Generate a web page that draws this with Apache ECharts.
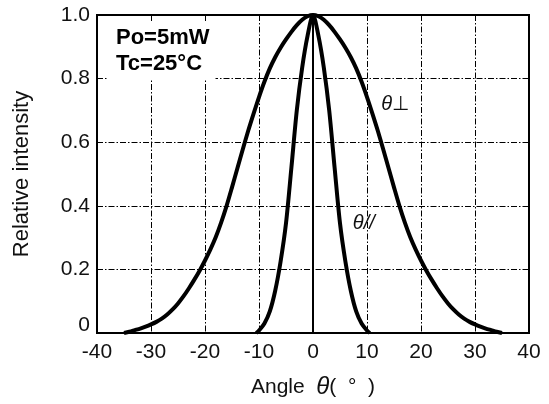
<!DOCTYPE html>
<html>
<head>
<meta charset="utf-8">
<script src="https://cdn.jsdelivr.net/npm/echarts@6/dist/echarts.min.js"></script>
<style>html,body{margin:0;padding:0;background:#fff}#c{width:549px;height:404px}</style>
</head>
<body>
<div id="c"></div>
<script>
// Data
const anglePerp = [-35,-34,-33,-32,-31,-30,-29,-28,-27,-26,-25,-24,-23,-22,-21,-20,-19,-18,-17,-16,-15,-14,-13,-12,-11,-10,-9,-8,-7,-6,-5,-4,-3,-2,-1,0,
  1,2,3,4,5,6,7,8,9,10,11,12,13,14,15,16,17,18,19,20,21,22,23,24,25,26,27,28,29,30,31,32,33,34,35];
const perpValues = [0,0.004,0.009,0.014,0.02,0.027,0.035,0.045,0.058,0.074,0.093,0.115,0.14,0.167,0.196,0.228,0.263,0.302,0.348,0.40,0.458,0.518,0.578,0.636,0.69,0.742,0.79,0.832,0.867,0.897,0.923,0.947,0.968,0.985,0.996,1.0,
  0.996,0.985,0.968,0.947,0.923,0.897,0.867,0.832,0.79,0.742,0.69,0.636,0.578,0.518,0.458,0.40,0.348,0.302,0.263,0.228,0.196,0.167,0.14,0.115,0.093,0.074,0.058,0.045,0.035,0.027,0.02,0.014,0.009,0.004,0];
const anglePar = [-10.5,-10,-9,-8,-7,-6,-5,-4,-3,-2,-1,0,1,2,3,4,5,6,7,8,9,10,10.5];
const parValues = [0,0.008,0.03,0.068,0.133,0.225,0.345,0.52,0.70,0.835,0.935,1.0,0.935,0.835,0.70,0.52,0.345,0.225,0.133,0.068,0.03,0.008,0];
const xTicks = [-40,-30,-20,-10,0,10,20,30,40];
const yTicks = [0,0.2,0.4,0.6,0.8,1.0];
const perpLabelPos = [15.2, 0.72];
const parLabelPos = [9.4, 0.343];

const FONT = 'Liberation Sans';
const chart = echarts.init(document.getElementById('c'));
const gridLine = {show:true, lineStyle:{color:'#000', width:1, type:[6,2,1.5,2]}};
const curveLabel = (pos, text) => ({
  symbol:'circle', symbolSize:1, silent:true,
  itemStyle:{color:'rgba(0,0,0,0)'},
  data:[{coord:pos, label:{show:true, position:'inside', formatter:text, color:'#111', fontFamily:FONT, fontSize:19,
    rich:{i:{fontStyle:'italic', fontFamily:FONT, fontSize:20, color:'#111'}, n:{fontFamily:FONT, fontSize:20, color:'#111'}}}}]
});
chart.setOption({
  animation:false,
  grid:{left:97, right:20, top:15, bottom:68, show:true, borderColor:'#000', borderWidth:2, backgroundColor:'transparent'},
  xAxis:{
    type:'value', min:xTicks[0], max:xTicks[xTicks.length-1], interval:10,
    axisLine:{show:true, lineStyle:{color:'#000', width:2}},
    axisTick:{show:false},
    splitLine:gridLine,
    axisLabel:{color:'#111', fontFamily:FONT, fontSize:21, margin:9, formatter:v=>String(v)},
    name:'Angle  {i|θ}(  °  )', nameLocation:'middle', nameGap:42,
    nameTextStyle:{color:'#111', fontFamily:FONT, fontSize:21, rich:{i:{fontStyle:'italic', fontSize:24, fontFamily:FONT, color:'#111'}}}
  },
  yAxis:{
    type:'value', min:yTicks[0], max:yTicks[yTicks.length-1], interval:0.2,
    axisLine:{show:true, lineStyle:{color:'#000', width:2}},
    axisTick:{show:false},
    splitLine:gridLine,
    axisLabel:{color:'#111', fontFamily:FONT, fontSize:21, margin:7,
      formatter:v=> v===0 ? '{z|0}' : v.toFixed(1),
      rich:{z:{fontFamily:FONT, fontSize:21, color:'#111', padding:[0,0,16,0]}}},
    name:'Relative intensity', nameLocation:'middle', nameGap:64,
    nameTextStyle:{color:'#111', fontFamily:FONT, fontSize:22}
  },
  series:[
    {type:'line', data:anglePerp.map((a,i)=>[a,perpValues[i]]), smooth:0.3, showSymbol:false,
      lineStyle:{color:'#000', width:4},
      markPoint:curveLabel(perpLabelPos, '{i|θ}{n|⊥}')},
    {type:'line', data:anglePar.map((a,i)=>[a,parValues[i]]), smooth:0.3, showSymbol:false,
      lineStyle:{color:'#000', width:4},
      markPoint:curveLabel(parLabelPos, '{i|θ//}')}
  ],
  graphic:[{
    type:'text', left:108, top:23, z:100,
    style:{text:'Po=5mW\nTc=25°C', font:'bold 22px "Liberation Sans"', lineHeight:26, fill:'#000',
      backgroundColor:'#fff', padding:[2,6,2,8]}
  }]
});
</script>
</body>
</html>
